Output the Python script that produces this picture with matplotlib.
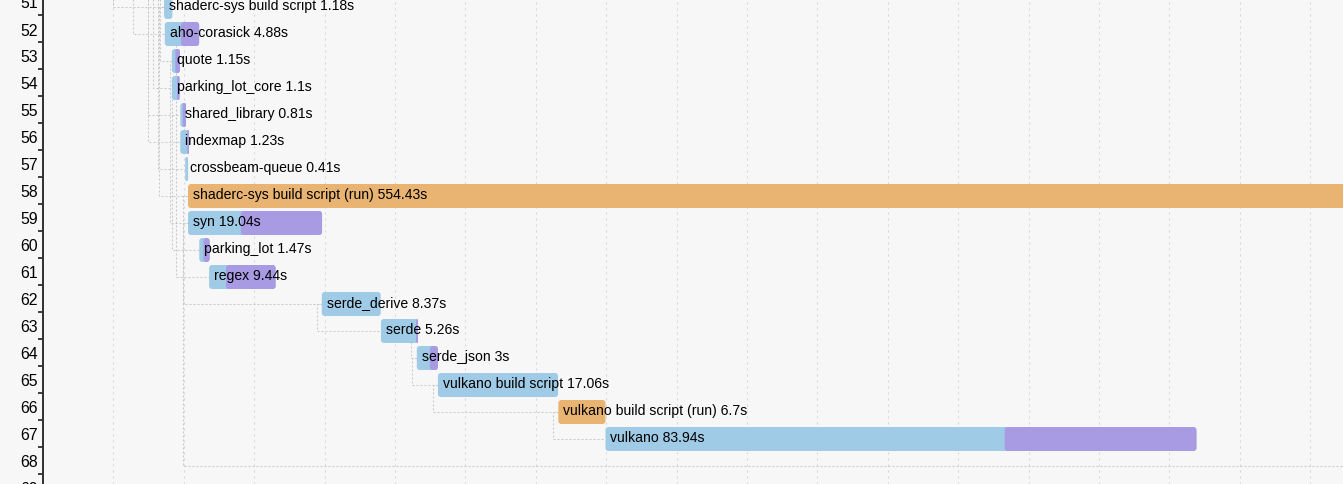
import numpy as np
import matplotlib.pyplot as plt
from matplotlib.patches import FancyBboxPatch


plt.rcParams['font.family'] = ['Liberation Sans', 'DejaVu Sans']

# units visible in this part of the cargo timing chart
unit_rows = [51, 52, 53, 54, 55, 56, 57, 58, 59, 60, 61, 62, 63, 64, 65, 66, 67]
unit_names = ["shaderc-sys build script", "aho-corasick", "quote", "parking_lot_core",
              "shared_library", "indexmap", "crossbeam-queue",
              "shaderc-sys build script (run)", "syn", "parking_lot", "regex",
              "serde_derive", "serde", "serde_json", "vulkano build script",
              "vulkano build script (run)", "vulkano"]
unit_starts = [17.2, 17.3, 18.3, 18.3, 19.5, 19.5, 20.2, 20.6, 20.6, 22.2, 23.6,
               39.6, 48.0, 53.1, 56.1, 73.2, 79.9]
unit_durations = [1.18, 4.88, 1.15, 1.1, 0.81, 1.23, 0.41, 554.43, 19.04, 1.47, 9.44,
                  8.37, 5.26, 3, 17.06, 6.7, 83.94]
# time until rmeta (start of codegen), None = no split shown
unit_rmeta = [None, 2.3, 0.5, 0.75, 0.35, 1.0, None, None, 7.5, 0.6, 2.4,
              None, 5.0, 1.85, None, None, 56.7]
unit_is_run = [False, False, False, False, False, False, False, True, False, False, False,
               False, False, False, False, True, False]

# units outside the crop, only seen through their dependency lines
hidden_rows = [44, 45, 46, 47, 48, 49, 68]
hidden_starts = [10.65, 13.49, 15.6, 16.3, 17.0, 17.3, 575.03]

# (parent row, child row, unlocked by parent's rmeta)
dep_edges = [(44, 51, False), (45, 52, False), (46, 55, False), (46, 56, False),
             (47, 54, False), (48, 57, False), (49, 53, False), (51, 58, False),
             (53, 59, True), (54, 60, True), (52, 61, True), (59, 62, False),
             (62, 63, False), (63, 64, True), (64, 65, False), (65, 66, False),
             (66, 67, False), (58, 68, False)]

axis_rows = list(range(50, 70))
grid_times = list(range(10, 190, 10))

# colours
bg = '#f7f7f7'
c_lib = '#9fcbe6'
c_run = '#e9b472'
c_codegen = '#a99ae4'
c_axis = '#303030'
c_grid = '#d6d6d6'
c_dep = '#c8c8c8'

W, H = 1343, 484
px_per_s = 7.04
px_per_row = 27.0
x0_px = 43
fig = plt.figure(figsize=(W / 100, H / 100), dpi=100, facecolor=bg)
ax = fig.add_axes([x0_px / W, 0, 1 - x0_px / W, 1])
ax.set_facecolor(bg)

px = 1.0 / px_per_s          # one pixel in seconds
box_h = 24 / px_per_row
aspect = px_per_s / px_per_row

# lookups for start / rmeta by row
start_of = dict(zip(unit_rows, unit_starts))
start_of.update(dict(zip(hidden_rows, hidden_starts)))
rmeta_of = dict(zip(unit_rows, unit_rmeta))

# grid
for t in grid_times:
    ax.axvline(t, color=c_grid, lw=0.75, ls=(0, (1.92, 3.84)), zorder=0)

# dependency lines
for parent, child, via_rmeta in dep_edges:
    fx = start_of[parent]
    if via_rmeta:
        fx += rmeta_of[parent]
    xs = [fx, fx - 5 * px, fx - 5 * px, start_of[child]]
    ys = [parent, parent, child, child]
    ax.plot(xs, ys, color=c_dep, lw=0.75, ls=(0, (1.92, 1.92)), zorder=1)


def rbox(x, y, w, color):
    r = min(3 * px, w / 2)
    p = FancyBboxPatch((x, y - box_h / 2), w, box_h,
                       boxstyle=f"round,pad=0,rounding_size={r}",
                       mutation_aspect=aspect, fc=color, ec='none', zorder=2)
    ax.add_patch(p)


for i, row in enumerate(unit_rows):
    s, d = unit_starts[i], unit_durations[i]
    rbox(s, row, d, c_run if unit_is_run[i] else c_lib)
    if unit_rmeta[i] is not None:
        rbox(s + unit_rmeta[i], row, d - unit_rmeta[i], c_codegen)
    label = f"{unit_names[i]} {unit_durations[i]:g}s"
    ax.text(s + 5 * px, row + 3 / px_per_row, label, fontsize=10.08, color='#000',
            ha='left', va='baseline', zorder=3)

# y axis: ticks between rows, numbers next to them
for spine in ['top', 'right', 'bottom']:
    ax.spines[spine].set_visible(False)
ax.spines['left'].set_color(c_axis)
ax.spines['left'].set_linewidth(1.4)
ax.set_xticks([])
ax.set_yticks([r + 8.4 / px_per_row for r in axis_rows])
ax.tick_params(axis='y', length=3.6, width=1.3, color=c_axis, labelleft=False)
for r in axis_rows:
    ax.text(-5 * px, r + 1.5 / px_per_row, str(r), fontsize=11.4, color='#000',
            ha='right', va='baseline', clip_on=False)

# limits last, so the tick list does not widen them
ax.set_xlim(0, (W - x0_px) / px_per_s)
ax.set_ylim(58 + (H - 196) / px_per_row, 58 - 196 / px_per_row)

fig.savefig("out.png", dpi=100, facecolor=bg)
